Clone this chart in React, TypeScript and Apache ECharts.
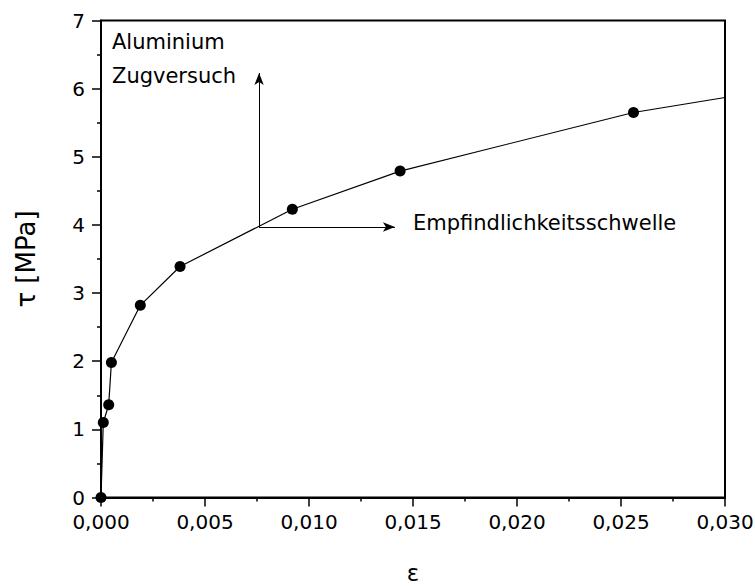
import React, { useEffect, useRef } from "react";
import * as echarts from "echarts";

const strainValues = [0, 0.00011, 0.00037, 0.0005, 0.00189, 0.0038, 0.0092, 0.01438, 0.0256];
const stressValues = [0, 1.1, 1.36, 1.98, 2.82, 3.39, 4.23, 4.79, 5.65];
const lineEnd = [0.03, 5.87];
const arrowOrigin = [0.0076, 3.97];
const arrowUpTo = 6.23;
const arrowRightTo = 0.01413;
const annotationTitle = ["Aluminium", "Zugversuch"];
const thresholdLabel = "Empfindlichkeitsschwelle";
const xAxisName = "ε";
const yAxisName = "τ [MPa]";

const FONT = "DejaVu Sans";

export default function App() {
  const ref = useRef<HTMLDivElement>(null);
  useEffect(() => {
    if (!ref.current) return;
    const chart = echarts.init(ref.current, null, { renderer: "svg" });
    const points: any[] = strainValues.map((x, i) => [x, stressValues[i]]);
    points.push({ value: lineEnd, symbol: "none" });
    chart.setOption({
      animation: false,
      backgroundColor: "#fff",
      textStyle: { fontFamily: FONT },
      grid: {
        left: 101,
        top: 20.5,
        right: 30,
        bottom: 89.5,
        containLabel: false,
        outerBoundsMode: "none",
        show: true,
        borderColor: "#000",
        borderWidth: 2,
        backgroundColor: "transparent",
      },
      xAxis: {
        type: "value",
        min: 0,
        max: 0.03,
        interval: 0.005,
        name: xAxisName,
        nameLocation: "middle",
        nameGap: 64,
        nameTextStyle: { fontSize: 23, color: "#000", fontFamily: FONT },
        axisLine: { show: true, onZero: false, lineStyle: { color: "#000", width: 2 } },
        axisTick: { show: true, length: 9, lineStyle: { color: "#000", width: 1.5 } },
        minorTick: { show: true, splitNumber: 2, length: 4, lineStyle: { color: "#000", width: 1.5 } },
        splitLine: { show: false },
        axisLabel: {
          color: "#000",
          fontSize: 20,
          fontFamily: FONT,
          margin: 14,
          formatter: (v: number) => v.toFixed(3).replace(".", ","),
        },
      },
      yAxis: {
        type: "value",
        min: 0,
        max: 7,
        interval: 1,
        name: yAxisName,
        nameLocation: "middle",
        nameGap: 62,
        nameTextStyle: { fontSize: 26, color: "#000", fontFamily: FONT },
        axisLine: { show: true, onZero: false, lineStyle: { color: "#000", width: 2 } },
        axisTick: { show: true, length: 9, lineStyle: { color: "#000", width: 1.5 } },
        minorTick: { show: true, splitNumber: 2, length: 4, lineStyle: { color: "#000", width: 1.5 } },
        splitLine: { show: false },
        axisLabel: { color: "#000", fontSize: 20, fontFamily: FONT, margin: 16 },
      },
      series: [
        {
          type: "line",
          data: points,
          symbol: "circle",
          symbolSize: 11,
          showSymbol: true,
          itemStyle: { color: "#000" },
          lineStyle: { color: "#000", width: 1.2 },
          markLine: {
            silent: true,
            symbol: ["none", "arrow"],
            symbolSize: [7, 12],
            label: { show: false },
            lineStyle: { color: "#000", width: 1, type: "solid" },
            data: [
              [{ coord: arrowOrigin }, { coord: [arrowOrigin[0], arrowUpTo] }],
              [{ coord: arrowOrigin }, { coord: [arrowRightTo, arrowOrigin[1]] }],
            ],
          },
        },
      ],
      graphic: [
        {
          type: "text",
          left: 112,
          top: 31,
          style: { text: annotationTitle[0], fontSize: 21, fontFamily: FONT, fill: "#000" },
        },
        {
          type: "text",
          left: 112,
          top: 65,
          style: { text: annotationTitle[1], fontSize: 21, fontFamily: FONT, fill: "#000" },
        },
        {
          type: "text",
          left: 413,
          top: 212,
          style: { text: thresholdLabel, fontSize: 21, fontFamily: FONT, fill: "#000" },
        },
      ],
    });
    return () => chart.dispose();
  }, []);
  return (
    <div
      ref={ref}
      style={{ position: "fixed", left: 0, top: 0, width: 755, height: 587 }}
    />
  );
}
